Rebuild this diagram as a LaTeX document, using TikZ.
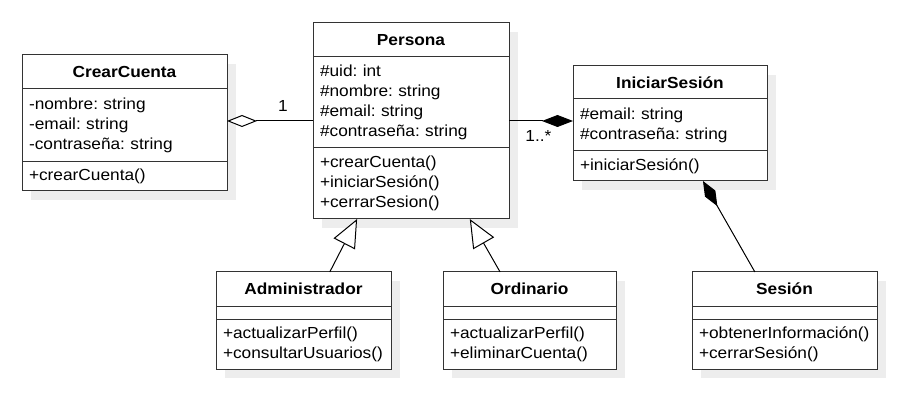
\documentclass[tikz,border=0pt]{standalone}
\usepackage{fontspec}
\setmainfont[FakeStretch=1.08]{Liberation Sans}
\usetikzlibrary{positioning,shadows,arrows.meta,calc}
\newcommand\letra{\fontsize{16}{20}\selectfont\frenchspacing}

\begin{document}
\begin{tikzpicture}[x=1pt,y=-1pt,font=\letra]
\tikzset{clase/.style={draw=black!80, line width=1pt, fill=white, outer sep=0pt, inner xsep=7pt, inner ysep=0pt,
    drop shadow={shadow xshift=9pt, shadow yshift=-9pt, fill=black!7, opacity=1}},
  titulo/.style={clase, font=\letra\bfseries, minimum width=#1, minimum height=34pt, anchor=north west},
  campos/.style={clase, align=left, anchor=north, text width=#1},
  asoc/.style={draw=black, line width=1pt}}
\useasboundingbox (0,0) rectangle (900,406);
% clases
\node[titulo=205pt] (CC) at (22,55) {CrearCuenta};
\node[campos=191pt, minimum height=73pt, below=0pt of CC] (CCa) {-nombre: string\\-email: string\\-contraseña: string};
\node[campos=191pt, minimum height=29pt, below=0pt of CCa] (CCm) {+crearCuenta()};
\node[titulo=196pt] (P) at (313,23) {Persona};
\node[campos=182pt, minimum height=91pt, below=0pt of P] (Pa) {\#uid: int\\\#nombre: string\\\#email: string\\\#contraseña: string};
\node[campos=182pt, minimum height=71pt, below=0pt of Pa] (Pm) {+crearCuenta()\\+iniciarSesión()\\+cerrarSesion()};
\node[titulo=194pt, minimum height=33pt] (IS) at (573,66) {IniciarSesión};
\node[campos=180pt, minimum height=52pt, below=0pt of IS] (ISa) {\#email: string\\\#contraseña: string};
\node[campos=180pt, minimum height=30pt, below=0pt of ISa] (ISm) {+iniciarSesión()};
\node[titulo=175pt] (A) at (216,272) {Administrador};
\node[campos=161pt, minimum height=13pt, below=0pt of A] (Aa) {};
\node[campos=161pt, minimum height=50pt, below=0pt of Aa] (Am) {+actualizarPerfil()\\+consultarUsuarios()};
\node[titulo=173pt] (O) at (443,272) {Ordinario};
\node[campos=159pt, minimum height=13pt, below=0pt of O] (Oa) {};
\node[campos=159pt, minimum height=50pt, below=0pt of Oa] (Om) {+actualizarPerfil()\\+eliminarCuenta()};
\node[titulo=185pt] (S) at (692,272) {Sesión};
\node[campos=171pt, minimum height=13pt, below=0pt of S] (Sa) {};
\node[campos=171pt, minimum height=50pt, below=0pt of Sa] (Sm) {+obtenerInformación()\\+cerrarSesión()};
% relaciones
\coordinate (Pizq) at ($(P.north west)!.5!(Pm.south west)$);
\coordinate (Pder) at ($(P.north east)!.5!(Pm.south east)$);
\draw[asoc, -{Diamond[open, fill=white, length=30pt, width=12pt]}] (Pizq) -- node[pos=.35, above=6pt] {1} (Pizq -| CCa.east);
\draw[asoc, -{Diamond[length=31pt, width=12pt]}] (Pder) -- node[pos=.46, below=6pt] {1..*} (Pder -| ISa.west);
\draw[asoc, -{Triangle[open, fill=white, length=28pt, width=24pt]}] ($(A.north west)!.65!(A.north east)$) -- ($(Pm.south west)!.225!(Pm.south east)$);
\draw[asoc, -{Triangle[open, fill=white, length=28pt, width=24pt]}] ($(O.north west)!.33!(O.north east)$) -- ($(Pm.south west)!.8!(Pm.south east)$);
\draw[asoc, -{Diamond[length=29pt, width=12pt]}] ($(S.north west)!.34!(S.north east)$) -- ($(ISm.south west)!.67!(ISm.south east)$);
\end{tikzpicture}
\end{document}
